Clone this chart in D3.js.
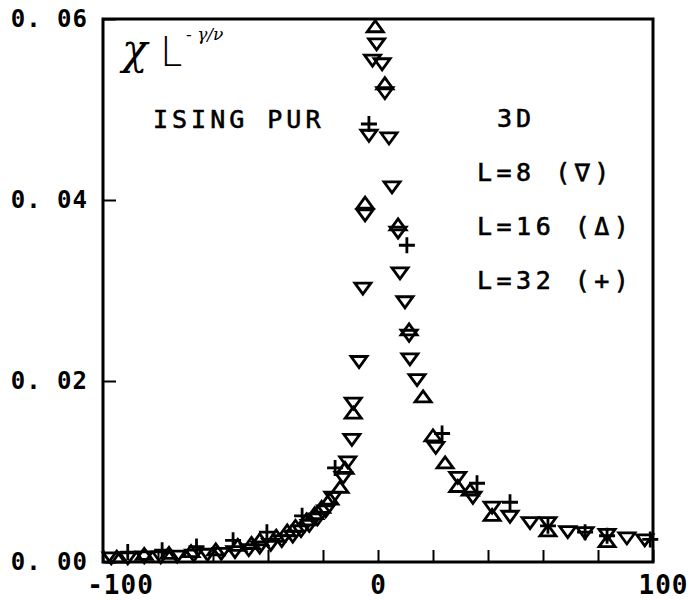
<!DOCTYPE html>
<html>
<head>
<meta charset="utf-8">
<script src="https://cdn.jsdelivr.net/npm/d3@7"></script>
<style>
  body { margin: 0; background: #fff; }
  svg text { fill: #000; }
</style>
</head>
<body>
<div id="chart"></div>
<script>
// L=8 points (down triangles)
const l8 = [
  [-97, 0.0004], [-91, 0.0004], [-85, 0.0005], [-79, 0.0005], [-73, 0.0006],
  [-67, 0.0007], [-62, 0.0008], [-57, 0.0009], [-52, 0.0011], [-47, 0.0013],
  [-43, 0.0016], [-39, 0.0019], [-35, 0.0023], [-31, 0.0028], [-28, 0.0034],
  [-25, 0.0040], [-22, 0.0047], [-19, 0.0056], [-16.4, 0.0071], [-12.7, 0.0093],
  [-11, 0.0110], [-9.5, 0.0135], [-9, 0.0175], [-6.9, 0.0221], [-5.5, 0.0302],
  [-4.7, 0.0383], [-3.3, 0.0471], [-2, 0.0554], [-0.5, 0.0572], [1.5, 0.0550],
  [2.5, 0.0518], [4, 0.0468], [5.1, 0.0414], [7.3, 0.0364], [8, 0.0319],
  [9.8, 0.0287], [11.3, 0.0250], [11.6, 0.0224], [14.2, 0.0201], [21, 0.0126],
  [29, 0.0093], [34.5, 0.0071], [41.5, 0.0060], [48, 0.0050], [55.3, 0.0043],
  [61.8, 0.0043], [69, 0.0033], [75.3, 0.0032], [83.3, 0.0030], [90.5, 0.0026],
  [97, 0.0024]
];

// L=16 points (up triangles)
const l16 = [
  [-95, 0.0006], [-85, 0.0009], [-76, 0.0010], [-68, 0.0012], [-59, 0.0014],
  [-51, 0.0019], [-46, 0.0021], [-43, 0.0025], [-37, 0.0029], [-33, 0.0035],
  [-30, 0.0040], [-26, 0.0047], [-23, 0.0054], [-20.5, 0.0061], [-17.5, 0.0070],
  [-13.8, 0.0083], [-12, 0.0104], [-9, 0.0165], [-4.7, 0.0397], [-1, 0.0592],
  [2.5, 0.0529], [7.3, 0.0373], [11.3, 0.0257], [16.4, 0.0183], [20, 0.0140],
  [24.4, 0.0110], [29, 0.0084], [33.5, 0.0080], [41.5, 0.0052], [61.8, 0.0035],
  [83.3, 0.0023]
];

// L=32 points (crosses)
const l32 = [
  [-91, 0.0011], [-78.5, 0.0013], [-66, 0.0017], [-52.7, 0.0024], [-40.4, 0.0033],
  [-27.6, 0.0051], [-15.6, 0.0104], [-3.3, 0.0484], [10.5, 0.0350], [23.3, 0.0142],
  [36, 0.0087], [48, 0.0066], [61.8, 0.0040], [75.3, 0.0033], [83.3, 0.0029],
  [99, 0.0025]
];

const xTicks = [-100, -80, -60, -40, -20, 0, 20, 40, 60, 80, 100];
const xLabels = [-100, 0, 100];
const yTicks = [0, 0.02, 0.04, 0.06];
const legend = ["L=8 (\u2207)", "L=16 (\u0394)", "L=32 (+)"];

const width = 691, height = 600;
const mLeft = 103, mRight = 653, mTop = 19, mBottom = 562;
const mono = "'DejaVu Sans Mono', monospace";

const svg = d3.select("#chart").append("svg")
  .attr("width", width)
  .attr("height", height);

const x = d3.scaleLinear().domain([-100, 100]).range([mLeft, mRight]);
const y = d3.scaleLinear().domain([0, 0.06]).range([mBottom, mTop]);

// x axis, ticks inside
const xAxis = svg.append("g")
  .attr("transform", "translate(0," + mBottom + ")")
  .call(d3.axisBottom(x)
    .tickValues(xTicks)
    .tickSize(-12)
    .tickSizeOuter(0)
    .tickPadding(7)
    .tickFormat(d => xLabels.includes(d) ? d : ""));
xAxis.select(".domain").remove();
xAxis.selectAll("line").attr("stroke", "#000").attr("stroke-width", 2);
xAxis.selectAll("text")
  .attr("font-family", mono)
  .attr("font-weight", "bold")
  .attr("font-size", 26)
  .attr("letter-spacing", 1)
  .attr("dy", "0.95em")
  .attr("dx", d => d === -100 ? 17 : d === 100 ? 10 : 0);

// y axis
const yAxis = svg.append("g")
  .attr("transform", "translate(" + mLeft + ",0)")
  .call(d3.axisLeft(y)
    .tickValues(yTicks)
    .tickSize(-13)
    .tickSizeOuter(0)
    .tickPadding(15)
    .tickFormat(d => d3.format(".2f")(d).replace(".", ". ")));
yAxis.select(".domain").remove();
yAxis.selectAll("line").attr("stroke", "#000").attr("stroke-width", 2);
yAxis.selectAll("text")
  .attr("font-family", mono)
  .attr("font-weight", "bold")
  .attr("font-size", 24)
  .attr("letter-spacing", 1)
  .style("white-space", "pre");

// frame
svg.append("rect")
  .attr("x", mLeft).attr("y", mTop)
  .attr("width", mRight - mLeft).attr("height", mBottom - mTop)
  .attr("fill", "none")
  .attr("stroke", "#000")
  .attr("stroke-width", 3);

// markers
const tw = 8, th = 5.5;
const down = `M${-tw},${-th}L${tw},${-th}L0,${th}Z`;
const up = `M${-tw},${th}L${tw},${th}L0,${-th}Z`;
const plus = "M-8,0L8,0M0,-8L0,8";

function drawSeries(data, path) {
  svg.append("g").selectAll("path")
    .data(data)
    .enter()
    .append("path")
    .attr("transform", d => "translate(" + x(d[0]) + "," + y(d[1]) + ")")
    .attr("d", path)
    .attr("fill", "none")
    .attr("stroke", "#000")
    .attr("stroke-width", 2.8)
    .attr("stroke-linejoin", "miter");
}
drawSeries(l8, down);
drawSeries(l16, up);
drawSeries(l32, plus);

// labels
svg.append("text")
  .attr("x", 122).attr("y", 64)
  .attr("font-family", "'DejaVu Serif', serif")
  .attr("font-style", "italic")
  .attr("font-weight", 300)
  .attr("font-size", 42)
  .text("\u03c7");
svg.append("text")
  .attr("x", 160).attr("y", 66)
  .attr("font-family", "'DejaVu Sans', sans-serif")
  .attr("font-weight", 300)
  .attr("font-size", 40)
  .text("L");
svg.append("text")
  .attr("x", 186).attr("y", 40)
  .attr("font-family", "'DejaVu Serif', serif")
  .attr("font-style", "italic")
  .attr("font-size", 17)
  .text("- \u03b3/\u03bd");

svg.append("text")
  .attr("x", 153).attr("y", 128)
  .attr("font-family", mono)
  .attr("font-size", 25)
  .attr("stroke", "#000")
  .attr("stroke-width", 0.6)
  .attr("letter-spacing", 4)
  .text("ISING PUR");
svg.append("text")
  .attr("x", 497).attr("y", 127)
  .attr("font-family", mono)
  .attr("font-size", 25)
  .attr("stroke", "#000")
  .attr("stroke-width", 0.6)
  .attr("letter-spacing", 4)
  .text("3D");

svg.append("g").selectAll("text")
  .data(legend)
  .enter()
  .append("text")
  .attr("x", 477)
  .attr("y", (d, i) => 181 + i * 54)
  .attr("font-family", mono)
  .attr("font-size", 25)
  .attr("stroke", "#000")
  .attr("stroke-width", 0.6)
  .attr("letter-spacing", 4.5)
  .style("white-space", "pre")
  .text(d => d);
</script>
</body>
</html>
